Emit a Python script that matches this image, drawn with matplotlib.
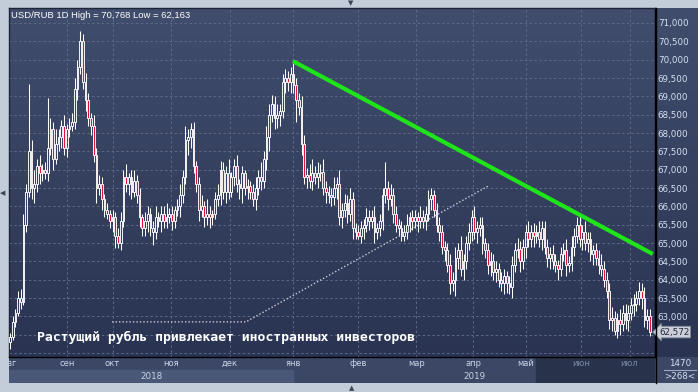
import numpy as np
import matplotlib.pyplot as plt
from matplotlib.colors import LinearSegmentedColormap
from matplotlib.transforms import blended_transform_factory
from matplotlib.ticker import FuncFormatter

# USD/RUB daily closes, Aug 2018 - Jul 2019
closes = [
    62.45, 62.85, 63.1, 63.5, 63.4, 65.5, 66.4, 67.5, 66.5, 66.6,
    67.1, 66.9, 67.0, 66.9, 67.6, 68.1, 67.3, 67.7, 67.9, 68.2,
    67.6, 68.1, 68.2, 68.3, 69.2, 69.8, 70.5, 69.4, 68.9, 68.4,
    68.2, 67.4, 66.5, 66.6, 66.2, 65.9, 65.8, 65.6, 65.7, 65.2,
    65.0, 65.6, 66.8, 66.6, 66.8, 66.4, 66.7, 66.3, 65.7, 65.4,
    65.6, 65.8, 65.4, 65.3, 65.7, 65.6, 65.8, 65.6, 65.7, 65.8,
    65.6, 65.9, 66.0, 66.3, 66.8, 67.8, 67.9, 68.1, 67.1, 66.6,
    65.9, 66.0, 65.7, 65.8, 65.7, 65.8, 66.2, 66.3, 67.0, 66.4,
    66.9, 66.4, 66.8, 67.1, 66.6, 66.5, 66.9, 66.5, 66.55, 66.4,
    66.2, 66.5, 66.8, 66.7, 67.3, 67.9, 68.5, 68.8, 68.4, 68.5,
    68.6, 69.4, 69.5, 69.4, 69.6, 69.3, 68.9, 68.7, 67.7, 66.8,
    66.85, 66.7, 66.9, 66.8, 66.9, 66.95, 66.5, 66.4, 66.3, 66.25,
    66.5, 66.6, 65.7, 65.9, 66.1, 65.8, 66.2, 65.4, 65.3, 65.2,
    65.4, 65.5, 65.7, 65.6, 65.7, 65.3, 65.4, 65.6, 66.3, 66.5,
    66.2, 66.3, 65.8, 65.5, 65.4, 65.2, 65.3, 65.5, 65.7, 65.6,
    65.7, 65.6, 65.7, 65.6, 65.8, 66.2, 66.3, 65.9, 65.5, 65.3,
    64.9, 64.8, 64.4, 63.9, 64.0, 64.6, 64.8, 64.3, 64.5, 65.0,
    65.3, 65.7, 65.3, 65.4, 65.5, 65.0, 64.8, 64.4, 64.5, 64.2,
    64.3, 64.0, 63.9, 64.1, 63.9, 63.8, 64.4, 64.8, 64.85, 64.5,
    64.9, 65.3, 65.1, 65.3, 65.2, 65.3, 65.1, 65.4, 64.9, 64.6,
    64.7, 64.5, 64.4, 64.3, 64.7, 64.8, 64.4, 64.45, 64.9, 65.2,
    65.5, 65.1, 65.3, 65.0, 65.1, 64.7, 64.8, 64.6, 64.4, 64.3,
    64.0, 63.7, 62.9, 62.95, 62.6, 62.9, 62.8, 63.1, 62.9, 63.1,
    63.3, 63.35, 63.5, 63.7, 63.5, 62.9, 63.0, 62.572,
]
first_open = 62.3

# how far the upper / lower shadow reaches past the body
wick_up = [
    0.1, 0.15, 0.1, 0.2, 0.25, 0.3, 0.2, 1.85, 0.3, 0.4,
    0.2, 0.3, 0.15, 0.2, 1.35, 0.3, 0.2, 0.4, 0.2, 0.15,
    0.3, 0.15, 0.2, 0.25, 0.3, 0.2, 0.27, 0.2, 0.25, 0.2,
    0.15, 0.3, 0.2, 0.25, 0.2, 0.15, 0.2, 0.1, 0.2, 0.15,
    0.2, 0.25, 0.2, 0.35, 0.1, 0.2, 0.3, 0.15, 0.2, 0.1,
    0.25, 0.2, 0.15, 0.2, 0.3, 0.15, 0.2, 0.2, 0.4, 0.15,
    0.2, 0.1, 0.2, 0.3, 0.2, 0.4, 0.2, 0.17, 0.2, 0.15,
    0.2, 0.3, 0.15, 0.4, 0.2, 0.1, 0.2, 0.3, 0.25, 0.2,
    0.2, 0.4, 0.15, 0.2, 0.3, 0.15, 0.2, 0.1, 0.2, 0.15,
    0.2, 0.3, 0.2, 0.4, 0.2, 0.3, 0.3, 0.25, 0.2, 0.3,
    0.2, 0.2, 0.25, 0.2, 0.2, 0.3, 0.2, 0.2, 0.3, 0.25,
    0.2, 0.3, 0.4, 0.2, 0.3, 0.2, 0.35, 0.2, 0.15, 0.2,
    0.3, 0.2, 0.4, 0.2, 0.25, 0.2, 0.3, 0.2, 0.15, 0.2,
    0.2, 0.15, 0.25, 0.2, 0.2, 0.3, 0.15, 0.2, 0.2, 0.7,
    0.2, 0.3, 0.2, 0.2, 0.15, 0.2, 0.2, 0.3, 0.15, 0.2,
    0.2, 0.15, 0.3, 0.2, 0.2, 0.25, 0.2, 0.15, 0.2, 0.2,
    0.2, 0.15, 0.2, 0.3, 0.2, 0.3, 0.2, 0.4, 0.2, 0.2,
    0.25, 0.2, 0.3, 0.2, 0.2, 0.2, 0.15, 0.2, 0.25, 0.2,
    0.2, 0.15, 0.2, 0.2, 0.15, 0.2, 0.25, 0.2, 0.3, 0.2,
    0.2, 0.2, 0.3, 0.2, 0.25, 0.2, 0.3, 0.2, 0.2, 0.2,
    0.2, 0.25, 0.2, 0.15, 0.2, 0.2, 0.3, 0.2, 0.3, 0.2,
    0.2, 0.25, 0.2, 0.3, 0.2, 0.2, 0.15, 0.2, 0.2, 0.3,
    0.2, 0.2, 0.2, 0.3, 0.2, 0.2, 0.3, 0.2, 0.25, 0.2,
    0.2, 0.25, 0.2, 0.25, 0.2, 0.3, 0.2, 0.2,
]
wick_dn = [
    0.2, 0.1, 0.15, 0.1, 0.2, 0.1, 0.2, 0.15, 0.3, 0.4,
    0.2, 0.3, 0.2, 0.15, 0.2, 0.2, 0.3, 0.15, 0.2, 0.3,
    0.2, 0.25, 0.2, 0.15, 0.2, 0.3, 0.2, 0.2, 0.3, 0.2,
    0.25, 0.2, 0.4, 0.2, 0.3, 0.2, 0.15, 0.2, 0.3, 0.33,
    0.13, 0.2, 0.15, 0.2, 0.3, 0.2, 0.15, 0.2, 0.25, 0.2,
    0.2, 0.3, 0.2, 0.35, 0.2, 0.15, 0.3, 0.2, 0.2, 0.15,
    0.25, 0.2, 0.15, 0.3, 0.2, 0.2, 0.4, 0.3, 0.2, 0.2,
    0.3, 0.2, 0.25, 0.2, 0.3, 0.2, 0.15, 0.2, 0.25, 0.2,
    0.3, 0.2, 0.15, 0.25, 0.2, 0.3, 0.4, 0.2, 0.3, 0.2,
    0.2, 0.3, 0.2, 0.25, 0.2, 0.3, 0.4, 0.2, 0.3, 0.25,
    0.3, 0.2, 0.3, 0.25, 0.3, 0.2, 0.6, 0.2, 0.3, 0.2,
    0.3, 0.2, 0.25, 0.2, 0.3, 0.2, 0.2, 0.3, 0.2, 0.25,
    0.2, 0.3, 0.2, 0.3, 0.2, 0.25, 0.2, 0.3, 0.2, 0.1,
    0.2, 0.3, 0.2, 0.25, 0.2, 0.3, 0.2, 0.2, 0.25, 0.2,
    0.3, 0.2, 0.25, 0.2, 0.2, 0.15, 0.15, 0.2, 0.2, 0.25,
    0.2, 0.3, 0.2, 0.2, 0.25, 0.2, 0.3, 0.2, 0.2, 0.25,
    0.2, 0.3, 0.2, 0.3, 0.2, 0.45, 0.3, 0.2, 0.3, 0.2,
    0.2, 0.25, 0.2, 0.3, 0.2, 0.3, 0.2, 0.25, 0.3, 0.2,
    0.25, 0.2, 0.2, 0.3, 0.25, 0.2, 0.3, 0.2, 0.2, 0.3,
    0.2, 0.3, 0.2, 0.2, 0.3, 0.2, 0.2, 0.3, 0.2, 0.25,
    0.3, 0.2, 0.2, 0.3, 0.2, 0.2, 0.3, 0.2, 0.2, 0.25,
    0.2, 0.2, 0.3, 0.2, 0.25, 0.2, 0.3, 0.2, 0.25, 0.2,
    0.2, 0.2, 0.25, 0.3, 0.1, 0.2, 0.3, 0.2, 0.25, 0.3,
    0.2, 0.3, 0.2, 0.2, 0.3, 0.2, 0.25, 0.1,
]

# month boundaries in bar numbers
months = ['авг', 'сен', 'окт', 'ноя', 'дек', 'янв', 'фев', 'мар', 'апр', 'май', 'июн', 'июл']
month_bar = [-0.2, 21, 38, 59.5, 81.5, 105, 129, 150.5, 171.5, 191, 211.5, 229.5]
years = ['2018', '2019']

# analyst lines drawn on the chart (bar number, price)
resist_x, resist_y = [104.8, 238.1], [69.96, 64.70]
support_x, support_y = [37.8, 87.4, 177.0], [62.85, 62.85, 66.55]

price_ticks = np.arange(62.0, 71.01, 0.5)
caption = 'Растущий рубль привлекает иностранных инвесторов'
title = 'USD/RUB 1D High = 70,768 Low = 62,163'

W, H = 698, 392
fig = plt.figure(figsize=(W / 100, H / 100), dpi=100)
fig.patch.set_facecolor('#c3cdd9')


def px_axes(x0, y0, x1, y1):
    a = fig.add_axes([x0 / W, 1 - y1 / H, (x1 - x0) / W, (y1 - y0) / H])
    a.set_axis_off()
    return a


grad = LinearSegmentedColormap.from_list('bg', ['#2a3452', '#404d6c'])
col = np.linspace(0, 1, 256).reshape(-1, 1)

# right price panel
ax_r = px_axes(655, 8, 698, 357)
ax_r.imshow(col, extent=(0, 1, 0, 1), cmap=grad, aspect='auto', origin='lower')
ax_r.set_xlim(0, 1); ax_r.set_ylim(0, 1)

# bottom time panel
ax_b = px_axes(9, 357, 655, 383)
ax_b.set_facecolor('#3b4765')
ax_b.set_axis_on()
for s in ax_b.spines.values():
    s.set_visible(False)
ax_b.set_xticks([]); ax_b.set_yticks([])

# bottom-right counter box
ax_c = px_axes(655, 357, 698, 383)
ax_c.set_axis_on()
ax_c.set_facecolor('#3b4765')
for s in ax_c.spines.values():
    s.set_visible(False)
ax_c.set_xticks([]); ax_c.set_yticks([])
ax_c.set_xlim(0, 1); ax_c.set_ylim(0, 1)
ax_c.plot([0.2, 0.95], [0.5, 0.5], color='#9aa9c4', lw=0.8)
ax_c.text(0.58, 0.75, '1470', color='#d5e0f2', fontsize=6.3, ha='center', va='center')
ax_c.text(0.58, 0.24, '>268<', color='#d5e0f2', fontsize=6.3, ha='center', va='center')

# main chart
ax = px_axes(9, 8, 655, 357)
ax.set_axis_on()
ax.imshow(col, extent=(0, 1, 0, 1), transform=ax.transAxes, cmap=grad,
          aspect='auto', origin='lower', zorder=0)

c = np.array(closes)
o = np.r_[first_open, c[:-1]]
x = np.arange(len(c))
top = np.maximum(o, c)
bot = np.minimum(o, c)
hi = top + np.array(wick_up)
lo = bot - np.array(wick_dn)
down = c < o

ax.vlines(x, top, hi, color='white', lw=0.75, zorder=3)
ax.vlines(x, lo, bot, color='white', lw=0.75, zorder=3)
ax.bar(x, np.maximum(top - bot, 0.03), bottom=bot, width=0.66,
       color=np.where(down, '#e5103c', 'none'), edgecolor='white', linewidth=0.65, zorder=4)

ax.plot(resist_x, resist_y, color='#1fe41a', lw=3.0, solid_capstyle='butt', zorder=5)
ax.plot(support_x, support_y, color='#c9cdd8', lw=1.0, linestyle=(0, (1, 1.5)), zorder=5)

xl = (-0.37, 238.9)
ax.set_xlim(*xl)
ax.set_ylim(61.892, 71.409)

ax.set_yticks(price_ticks)
ax.set_xticks(month_bar[1:])
ax.yaxis.tick_right()
ax.yaxis.set_major_formatter(FuncFormatter(
    lambda v, p: '' if v < 62.9 else f'{v:.3f}'.replace('.', ',')))
ax.tick_params(axis='y', length=0, pad=2, labelsize=6.3, labelcolor='#d5e0f2')
ax.tick_params(axis='x', length=0, labelbottom=False)
ax.grid(True, color='#5c6988', lw=0.7, linestyle=(0, (2.5, 2.5)))
ax.set_axisbelow(True)
for s in ['top', 'left']:
    ax.spines[s].set_color('#1d2438')
ax.spines['right'].set_color('black')
ax.spines['bottom'].set_color('black')
for s in ax.spines.values():
    s.set_linewidth(1.0)

# last price marker
tr = blended_transform_factory(ax.transAxes, ax.transData)
ax.text(1.006, c[-1], f'{c[-1]:.3f}'.replace('.', ','), transform=tr, fontsize=6.3,
        color='#222836', va='center', ha='left', zorder=10, clip_on=False,
        bbox=dict(boxstyle='larrow,pad=0.15', fc='#c9ced8', ec='#7c8496', lw=0.6))

# month and year labels
ax_b.set_xlim(*xl); ax_b.set_ylim(0, 1)
split = 536
ax_b.axvspan((split - 10) / 2.7, xl[1], color='#28324b', zorder=0)
ax_b.axvspan(xl[0], month_bar[5], ymin=0, ymax=0.5, color='#4a5878', zorder=0)
for m, b in zip(months, month_bar):
    dim = b > (split - 10) / 2.7
    ax_b.text(b, 0.74, m, ha='center', va='center', fontsize=6.0,
              color='#7b88a3' if dim else '#c9d3e6', clip_on=True)
ax_b.text((xl[0] + month_bar[5]) / 2, 0.25, years[0], ha='center', va='center',
          fontsize=6.3, color='#c9d3e6')
ax_b.text((month_bar[5] + xl[1]) / 2, 0.25, years[1], ha='center', va='center',
          fontsize=6.3, color='#c9d3e6')

# separators
fig.add_artist(plt.Line2D([655.5 / W] * 2, [1 - 383 / H, 1 - 8 / H], color='black', lw=1.0))

fig.text(11 / W, 1 - 15 / H, title, color='white', fontsize=6.8, va='center', ha='left',
         family='Liberation Sans')
fig.text(37 / W, 1 - 337 / H, caption, color='white', fontsize=9.45, va='center', ha='left',
         family='DejaVu Sans Mono', weight='bold')

fig.text(351 / W, 1 - 3 / H, '▼', color='#3c4455', fontsize=5, ha='center', va='center')
fig.text(352 / W, 1 - 388 / H, '▲', color='#3c4455', fontsize=5, ha='center', va='center')
fig.text(3 / W, 1 - 193 / H, '◀', color='#3c4455', fontsize=5, ha='center', va='center')

fig.savefig('out.png', dpi=100, facecolor=fig.get_facecolor())
